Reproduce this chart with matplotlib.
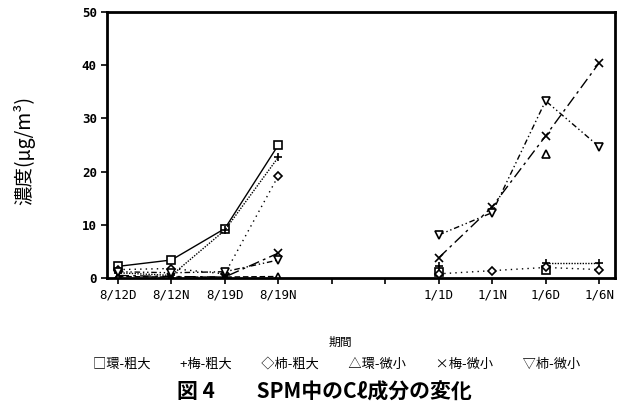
import numpy as np
import matplotlib
matplotlib.use('Agg')
import matplotlib.pyplot as plt

plt.rcParams['font.family'] = ['Noto Sans CJK JP', 'DejaVu Sans']

# 期間 (8月と1月の間は空き)
periods = ['8/12D', '8/12N', '8/19D', '8/19N', '', '', '1/1D', '1/1N', '1/6D', '1/6N']
aug_pos = [0, 1, 2, 3]
jan_pos = [6, 7, 8, 9]

nan = np.nan
# 濃度 (μg/m3)
kan_coarse_aug = [2.2, 3.4, 9.3, 25.0]
kan_coarse_jan = [1.2, nan, 1.5, nan]
ume_coarse_aug = [1.0, 0.5, 9.0, 22.7]
ume_coarse_jan = [2.2, nan, 2.9, 2.9]
kaki_coarse_aug = [1.6, 1.8, 0.8, 19.2]
kaki_coarse_jan = [0.8, 1.4, 2.0, 1.6]
kan_fine_aug = [0.3, 0.2, 0.2, 0.3]
kan_fine_jan = [nan, nan, 23.3, nan]
ume_fine_aug = [0.5, 0.3, 0.2, 4.7]
ume_fine_jan = [3.8, 13.4, 26.7, 40.4]
kaki_fine_aug = [1.2, 1.0, 1.2, 3.4]
kaki_fine_jan = [8.1, 12.3, 33.3, 24.7]

series = [
    (kan_coarse_aug, kan_coarse_jan, 's', (0, ())),
    (ume_coarse_aug, ume_coarse_jan, '+', (0, (1, 1))),
    (kaki_coarse_aug, kaki_coarse_jan, 'D', (0, (1, 3))),
    (kan_fine_aug, kan_fine_jan, '^', (0, (4, 2))),
    (ume_fine_aug, ume_fine_jan, 'x', (0, (8, 3, 2, 3))),
    (kaki_fine_aug, kaki_fine_jan, 'v', (0, (4, 2, 1, 2, 1, 2))),
]

fig = plt.figure(figsize=(6.27, 4.12), dpi=100)
ax = fig.add_axes([0.171, 0.325, 0.81, 0.646])

for aug, jan, mk, ls in series:
    ms = 4.5 if mk == 'D' else 6
    for pos, vals in ((aug_pos, aug), (jan_pos, jan)):
        ax.plot(pos, vals, color='black', linestyle=ls, linewidth=1.0,
                marker=mk, markersize=ms, markerfacecolor='white',
                markeredgecolor='black', markeredgewidth=1.2)

ax.set_xlim(-0.2, 9.3)
ax.set_ylim(0, 50)
ax.set_xticks(range(len(periods)))
ax.set_xticklabels(periods, family='DejaVu Sans Mono', fontsize=9)
ax.set_yticks([0, 10, 20, 30, 40, 50])
ax.set_yticklabels(['0', '10', '20', '30', '40', '50'],
                   family='DejaVu Sans Mono', fontsize=9, fontweight='bold')
ax.tick_params(direction='out', length=4, width=1.2)
for s in ax.spines.values():
    s.set_linewidth(2)

fig.text(0.038, 0.635, '濃度(μg/m³)', rotation=90, ha='center', va='center',
         fontsize=14)
fig.text(0.542, 0.170, '期間', ha='center', va='center', fontsize=8.5)
fig.text(0.537, 0.117,
         '□環-粗大　　 +梅-粗大　　 ◇柿-粗大　　 △環-微小　　 ×梅-微小　　 ▽柿-微小',
         ha='center', va='center', fontsize=9.5)
fig.text(0.518, 0.049, '図 4　　SPM中のCℓ成分の変化', ha='center', va='center',
         fontsize=15, fontweight='bold')

fig.savefig('out.png', dpi=100)
